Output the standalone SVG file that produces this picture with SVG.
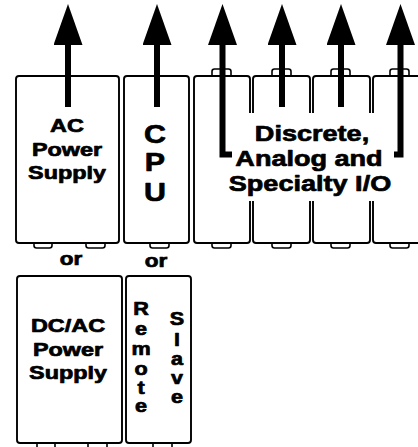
<svg xmlns="http://www.w3.org/2000/svg" width="418" height="447" viewBox="0 0 418 447">
<style>
.box{fill:#fff;stroke:#000;stroke-width:1.9}
.tab{fill:#fff;stroke:#000;stroke-width:1.6}
.t{font-family:"Liberation Sans",Arial,sans-serif;font-weight:bold;text-anchor:middle;fill:#000;stroke:#000;stroke-width:0.7;stroke-linejoin:round}
.shaft{fill:none;stroke:#000;stroke-width:6;stroke-linejoin:miter;stroke-linecap:butt}
</style>
<defs>
<marker id="head" markerUnits="userSpaceOnUse" markerWidth="41" markerHeight="29" viewBox="0 0 41 29" refX="1" refY="14.5" orient="auto">
<path d="M0,0 L41,14.5 L0,29 Z" fill="#000"/>
</marker>
</defs>
<rect width="418" height="447" fill="#fff"/>

<g id="ac-power-supply">
<rect class="tab" x="34" y="238" width="18" height="10" rx="2.5"/>
<rect class="tab" x="86" y="238" width="19" height="10" rx="2.5"/>
<rect class="box" x="16" y="76" width="103" height="167" rx="3"/>
<text class="t" font-size="18" transform="translate(67 132) scale(1.3 1)">AC</text>
<text class="t" font-size="18" transform="translate(67 156) scale(1.3 1)">Power</text>
<text class="t" font-size="18" transform="translate(67 179) scale(1.3 1)">Supply</text>
</g>

<g id="cpu">
<rect class="tab" x="150" y="238" width="19" height="10" rx="2.5"/>
<rect class="box" x="124" y="76" width="65" height="167" rx="3"/>
<text class="t" font-size="26" transform="translate(155 143) scale(1.17 1)">C</text>
<text class="t" font-size="26" transform="translate(155 171) scale(1.17 1)">P</text>
<text class="t" font-size="26" transform="translate(155 201) scale(1.17 1)">U</text>
</g>

<g id="io-module-1">
<rect class="tab" x="212" y="69" width="19" height="12" rx="2.5"/>
<rect class="tab" x="212" y="238" width="19" height="10" rx="2.5"/>
<rect class="box" x="194" y="76" width="56" height="167" rx="3"/>
</g>
<g id="io-module-2">
<rect class="tab" x="272" y="69" width="19" height="12" rx="2.5"/>
<rect class="tab" x="272" y="238" width="19" height="10" rx="2.5"/>
<rect class="box" x="253" y="76" width="57" height="167" rx="3"/>
</g>
<g id="io-module-3">
<rect class="tab" x="331" y="69" width="19" height="12" rx="2.5"/>
<rect class="tab" x="331" y="238" width="19" height="10" rx="2.5"/>
<rect class="box" x="313" y="76" width="57" height="167" rx="3"/>
</g>
<g id="io-module-4">
<rect class="tab" x="390" y="69" width="19" height="12" rx="2.5"/>
<rect class="tab" x="390" y="238" width="19" height="10" rx="2.5"/>
<rect class="box" x="373" y="76" width="57" height="167" rx="3"/>
</g>

<g id="io-label">
<rect x="228" y="113" width="164" height="88" fill="#fff"/>
<text class="t" font-size="22" transform="translate(312 141) scale(1.23 1)">Discrete,</text>
<text class="t" font-size="22" transform="translate(309 166) scale(1.23 1)">Analog and</text>
<text class="t" font-size="22" transform="translate(310 191) scale(1.23 1)">Specialty I/O</text>
</g>

<g id="or-labels">
<text class="t" font-size="18" transform="translate(71 265) scale(1.25 1)">or</text>
<text class="t" font-size="18" transform="translate(156 267) scale(1.25 1)">or</text>
</g>

<g id="dcac-power-supply">
<rect class="tab" x="37" y="438" width="18" height="14" rx="2.5"/>
<rect class="tab" x="88" y="438" width="19" height="14" rx="2.5"/>
<rect class="box" x="17" y="276" width="105" height="167" rx="3"/>
<text class="t" font-size="18" transform="translate(68 332) scale(1.3 1)">DC/AC</text>
<text class="t" font-size="18" transform="translate(68 356) scale(1.3 1)">Power</text>
<text class="t" font-size="18" transform="translate(68 379) scale(1.3 1)">Supply</text>
</g>

<g id="remote-slave">
<rect class="tab" x="153" y="438" width="19" height="14" rx="2.5"/>
<rect class="box" x="126" y="276" width="65" height="167" rx="3"/>
<text class="t" font-size="18" transform="translate(141 315) scale(1.2 1)">R</text>
<text class="t" font-size="18" transform="translate(141 335) scale(1.2 1)">e</text>
<text class="t" font-size="18" transform="translate(141 355) scale(1.2 1)">m</text>
<text class="t" font-size="18" transform="translate(141 375) scale(1.2 1)">o</text>
<text class="t" font-size="18" transform="translate(141 394) scale(1.2 1)">t</text>
<text class="t" font-size="18" transform="translate(141 412) scale(1.2 1)">e</text>
<text class="t" font-size="18" transform="translate(177 325) scale(1.2 1)">S</text>
<text class="t" font-size="18" transform="translate(177 346) scale(1.2 1)">l</text>
<text class="t" font-size="18" transform="translate(177 365) scale(1.2 1)">a</text>
<text class="t" font-size="18" transform="translate(177 384) scale(1.2 1)">v</text>
<text class="t" font-size="18" transform="translate(177 403) scale(1.2 1)">e</text>
</g>

<g id="connectors">
<path class="shaft" d="M68,107 V44" marker-end="url(#head)"/>
<path class="shaft" d="M157,107 V44" marker-end="url(#head)"/>
<path class="shaft" d="M232,154.5 H222.5 V44" marker-end="url(#head)"/>
<path class="shaft" d="M282,107 V44" marker-end="url(#head)"/>
<path class="shaft" d="M341,107 V44" marker-end="url(#head)"/>
<path class="shaft" d="M394,154.5 H400.5 V44" marker-end="url(#head)"/>
</g>
</svg>
